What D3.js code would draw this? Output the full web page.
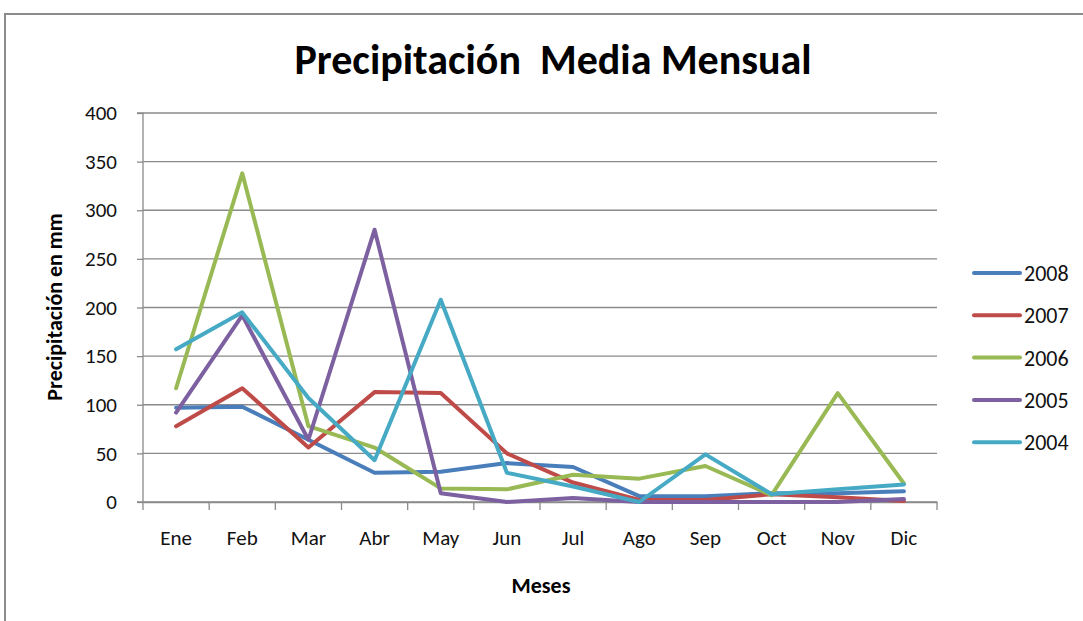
<!DOCTYPE html>
<html><head><meta charset="utf-8">
<script src="https://cdn.jsdelivr.net/npm/d3@7"></script>
<style>body{margin:0;background:#fff}svg{display:block}</style>
</head><body>
<script>
const months = ["Ene","Feb","Mar","Abr","May","Jun","Jul","Ago","Sep","Oct","Nov","Dic"];
const seriesNames = ["2008","2007","2006","2005","2004"];
const v2008 = [97,98,64,30,31,40,36,6,6,9,9,11];
const v2007 = [78,117,56,113,112,50,20,2,2,8,5,1];
const v2006 = [117,338,78,56,14,13,28,24,37,7,112,19];
const v2005 = [92,192,64,280,9,0,4,0,0,0,0,3];
const v2004 = [157,195,107,43,208,30,16,0,49,8,13,18];
const yTicks = [0,50,100,150,200,250,300,350,400];
const colors = ["#4a7ebb","#be4b48","#98b954","#7d60a0","#46aac5"];
const seriesValues = [v2008,v2007,v2006,v2005,v2004];

const W=1083,H=621;
const svg=d3.select("body").append("svg").attr("width",W).attr("height",H);
const font="'Carlito','Lato','Open Sans',sans-serif";

// outer frame
svg.append("path").attr("d",`M5,${H} L5,14 L${W},14`).attr("fill","none").attr("stroke","#8c8c8c").attr("stroke-width",2);

const L=143,R=937,T=113,B=502;
const x=d3.scaleBand().domain(months).range([L,R]);
const y=d3.scaleLinear().domain([0,400]).range([B,T]);

// gridlines
svg.append("g").selectAll("line").data(yTicks).join("line")
  .attr("x1",L).attr("x2",R).attr("y1",d=>y(d)).attr("y2",d=>y(d))
  .attr("stroke","#8a8a8a").attr("stroke-width",1.3);

// y axis
const ya=svg.append("g").attr("transform",`translate(${L},0)`)
  .call(d3.axisLeft(y).tickValues(yTicks).tickSize(6).tickPadding(20));
ya.select(".domain").attr("stroke","#8a8a8a").attr("stroke-width",1.3).attr("d",`M-6,${T}H0V${B}H-6`);
ya.selectAll(".tick line").attr("stroke","#8a8a8a").attr("stroke-width",1.3);
ya.selectAll("text").attr("font-family",font).attr("font-size",21).attr("fill","#111");

// x axis
const xa=svg.append("g").attr("transform",`translate(0,${B})`)
  .call(d3.axisBottom(x).tickSize(0).tickPadding(28));
xa.select(".domain").attr("stroke","#8a8a8a").attr("stroke-width",1.3);
xa.selectAll("text").attr("font-family",font).attr("font-size",21).attr("fill","#111");
svg.append("g").selectAll("line").data(d3.range(months.length+1)).join("line")
  .attr("x1",i=>L+i*x.step()).attr("x2",i=>L+i*x.step())
  .attr("y1",B).attr("y2",B+8).attr("stroke","#8a8a8a").attr("stroke-width",1.3);

// lines
const line=d3.line().x((d,i)=>x(months[i])+x.bandwidth()/2).y(d=>y(d));
seriesValues.forEach((vals,k)=>{
  svg.append("path").datum(vals).attr("d",line).attr("fill","none")
    .attr("stroke",colors[k]).attr("stroke-width",4).attr("stroke-linejoin","round").attr("stroke-linecap","round");
});

// title
svg.append("text").attr("x",553).attr("y",74).attr("text-anchor","middle")
  .attr("font-family",font).attr("font-weight","bold").attr("font-size",42).attr("fill","#000")
  .attr("xml:space","preserve").text("Precipitación  Media Mensual");
// axis titles
svg.append("text").attr("x",541).attr("y",593).attr("text-anchor","middle")
  .attr("font-family",font).attr("font-weight","bold").attr("font-size",22).text("Meses");
svg.append("text").attr("transform","translate(62,307) rotate(-90)").attr("text-anchor","middle")
  .attr("font-family",font).attr("font-weight","bold").attr("font-size",22).text("Precipitación en mm");

// legend
const lg=svg.append("g");
seriesNames.forEach((n,k)=>{
  const yy=273+k*42.3;
  lg.append("line").attr("x1",974).attr("x2",1020).attr("y1",yy).attr("y2",yy)
    .attr("stroke",colors[k]).attr("stroke-width",4).attr("stroke-linecap","round");
  lg.append("text").attr("x",1024).attr("y",yy+8).attr("font-family",font).attr("font-size",22).attr("fill","#111").text(n);
});
</script>
</body></html>
